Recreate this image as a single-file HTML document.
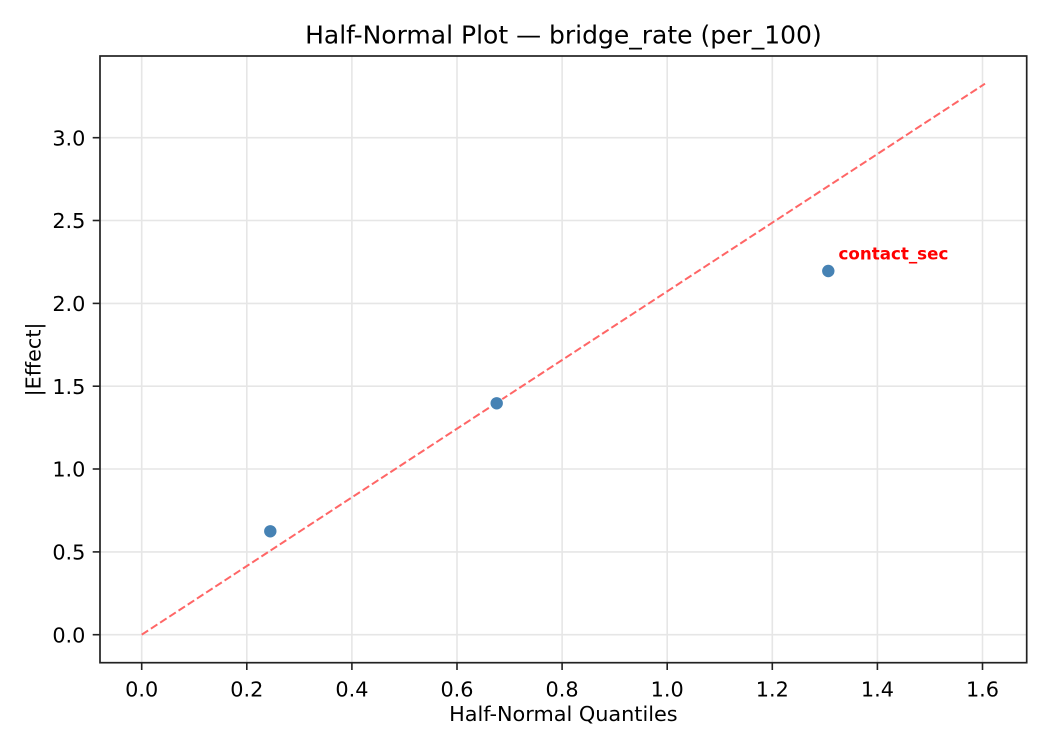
<!DOCTYPE html>
<html>
<head>
<meta charset="utf-8">
<style>
html,body{margin:0;padding:0;background:#fff;}
svg{display:block;}
text{font-family:"DejaVu Sans","Liberation Sans",sans-serif;fill:#000;}
</style>
</head>
<body>
<svg width="1050" height="750" viewBox="0 0 1050 750" xmlns="http://www.w3.org/2000/svg">
<rect x="0" y="0" width="1050" height="750" fill="#fff"/>
<!-- grid -->
<g stroke="#e6e6e6" stroke-width="1.6">
<line x1="141.7" y1="56" x2="141.7" y2="662.7"/>
<line x1="246.8" y1="56" x2="246.8" y2="662.7"/>
<line x1="351.9" y1="56" x2="351.9" y2="662.7"/>
<line x1="457.0" y1="56" x2="457.0" y2="662.7"/>
<line x1="562.1" y1="56" x2="562.1" y2="662.7"/>
<line x1="667.2" y1="56" x2="667.2" y2="662.7"/>
<line x1="772.3" y1="56" x2="772.3" y2="662.7"/>
<line x1="877.4" y1="56" x2="877.4" y2="662.7"/>
<line x1="982.5" y1="56" x2="982.5" y2="662.7"/>
<line x1="100" y1="634.7" x2="1026.7" y2="634.7"/>
<line x1="100" y1="551.9" x2="1026.7" y2="551.9"/>
<line x1="100" y1="469.0" x2="1026.7" y2="469.0"/>
<line x1="100" y1="386.2" x2="1026.7" y2="386.2"/>
<line x1="100" y1="303.4" x2="1026.7" y2="303.4"/>
<line x1="100" y1="220.5" x2="1026.7" y2="220.5"/>
<line x1="100" y1="137.7" x2="1026.7" y2="137.7"/>
</g>
<!-- reference line -->
<line x1="141.7" y1="634.7" x2="985" y2="83.7" stroke="#ff6666" stroke-width="2" stroke-dasharray="7.7 3.3"/>
<!-- points -->
<g fill="#4682b4" stroke="#ffffff" stroke-width="0.8">
<circle cx="270.3" cy="531.3" r="6.6"/>
<circle cx="496.7" cy="403.3" r="6.6"/>
<circle cx="828.3" cy="271" r="6.6"/>
</g>
<text x="838.5" y="259.5" font-size="16.7" font-weight="bold" style="fill:#ff0000">contact_sec</text>
<!-- axes frame -->
<rect x="100" y="56" width="926.7" height="606.7" fill="none" stroke="#222" stroke-width="1.7"/>
<!-- ticks -->
<g stroke="#222" stroke-width="1.6">
<line x1="141.7" y1="662.7" x2="141.7" y2="670"/>
<line x1="246.8" y1="662.7" x2="246.8" y2="670"/>
<line x1="351.9" y1="662.7" x2="351.9" y2="670"/>
<line x1="457.0" y1="662.7" x2="457.0" y2="670"/>
<line x1="562.1" y1="662.7" x2="562.1" y2="670"/>
<line x1="667.2" y1="662.7" x2="667.2" y2="670"/>
<line x1="772.3" y1="662.7" x2="772.3" y2="670"/>
<line x1="877.4" y1="662.7" x2="877.4" y2="670"/>
<line x1="982.5" y1="662.7" x2="982.5" y2="670"/>
<line x1="92.7" y1="634.7" x2="100" y2="634.7"/>
<line x1="92.7" y1="551.9" x2="100" y2="551.9"/>
<line x1="92.7" y1="469.0" x2="100" y2="469.0"/>
<line x1="92.7" y1="386.2" x2="100" y2="386.2"/>
<line x1="92.7" y1="303.4" x2="100" y2="303.4"/>
<line x1="92.7" y1="220.5" x2="100" y2="220.5"/>
<line x1="92.7" y1="137.7" x2="100" y2="137.7"/>
</g>
<!-- x tick labels -->
<g font-size="20.8" text-anchor="middle">
<text x="141.7" y="696.5">0.0</text>
<text x="246.8" y="696.5">0.2</text>
<text x="351.9" y="696.5">0.4</text>
<text x="457.0" y="696.5">0.6</text>
<text x="562.1" y="696.5">0.8</text>
<text x="667.2" y="696.5">1.0</text>
<text x="772.3" y="696.5">1.2</text>
<text x="877.4" y="696.5">1.4</text>
<text x="982.5" y="696.5">1.6</text>
</g>
<!-- y tick labels -->
<g font-size="20.8" text-anchor="end">
<text x="85.4" y="642.3">0.0</text>
<text x="85.4" y="559.5">0.5</text>
<text x="85.4" y="476.6">1.0</text>
<text x="85.4" y="393.8">1.5</text>
<text x="85.4" y="311.0">2.0</text>
<text x="85.4" y="228.1">2.5</text>
<text x="85.4" y="145.3">3.0</text>
</g>
<!-- axis labels -->
<text x="563.4" y="721" font-size="20.8" text-anchor="middle">Half-Normal Quantiles</text>
<text x="0" y="0" font-size="20.8" text-anchor="middle" transform="translate(40.5,359.4) rotate(-90)">|Effect|</text>
<!-- title -->
<text x="563.4" y="43.5" font-size="25" text-anchor="middle">Half-Normal Plot — bridge_rate (per_100)</text>
</svg>
</body>
</html>
